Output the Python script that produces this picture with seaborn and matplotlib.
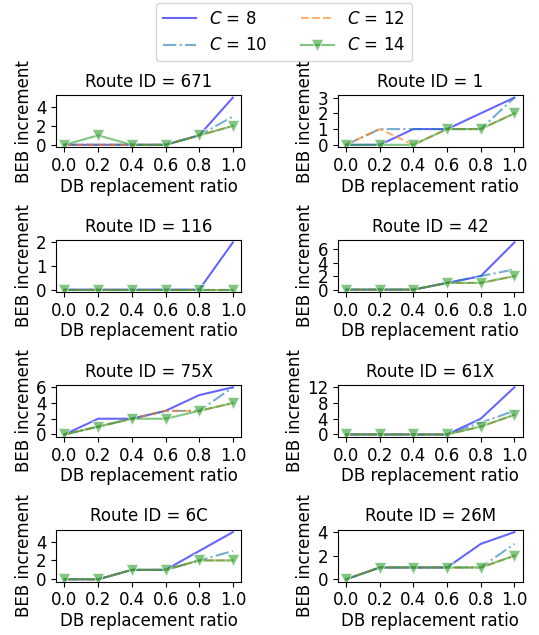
import pandas as pd
import seaborn as sns
import matplotlib.pyplot as plt

ratios = [0.0, 0.2, 0.4, 0.6, 0.8, 1.0]
routes = ["671", "1", "116", "42", "75X", "61X", "6C", "26M"]
capacities = [8, 10, 12, 14]

# BEB increment per route, one list per capacity C (8, 10, 12, 14)
r671 = [[0, 0, 0, 0, 1, 5], [0, 0, 0, 0, 1, 3], [0, 0, 0, 0, 1, 2], [0, 1, 0, 0, 1, 2]]
r1 = [[0, 0, 1, 1, 2, 3], [0, 1, 1, 1, 1, 3], [0, 1, 0, 1, 1, 2], [0, 0, 0, 1, 1, 2]]
r116 = [[0, 0, 0, 0, 0, 2], [0, 0, 0, 0, 0, 0], [0, 0, 0, 0, 0, 0], [0, 0, 0, 0, 0, 0]]
r42 = [[0, 0, 0, 1, 2, 7], [0, 0, 0, 1, 2, 3], [0, 0, 0, 1, 1, 2], [0, 0, 0, 1, 1, 2]]
r75x = [[0, 2, 2, 3, 5, 6], [0, 1, 2, 3, 3, 6], [0, 1, 2, 3, 3, 4], [0, 1, 2, 2, 3, 4]]
r61x = [[0, 0, 0, 0, 4, 12], [0, 0, 0, 0, 3, 6], [0, 0, 0, 0, 2, 5], [0, 0, 0, 0, 2, 5]]
r6c = [[0, 0, 1, 1, 3, 5], [0, 0, 1, 1, 2, 3], [0, 0, 1, 1, 2, 2], [0, 0, 1, 1, 2, 2]]
r26m = [[0, 1, 1, 1, 3, 4], [0, 1, 1, 1, 1, 3], [0, 1, 1, 1, 1, 2], [0, 1, 1, 1, 1, 2]]
route_data = [r671, r1, r116, r42, r75x, r61x, r6c, r26m]

yticks = {
    "671": [0, 2, 4], "1": [0, 1, 2, 3], "116": [0, 1, 2], "42": [0, 2, 4, 6],
    "75X": [0, 2, 4, 6], "61X": [0, 4, 8, 12], "6C": [0, 2, 4], "26M": [0, 2, 4],
}

styles = {
    8: dict(color="blue", linestyle="-"),
    10: dict(color="tab:blue", linestyle="-."),
    12: dict(color="tab:orange", linestyle="--"),
    14: dict(color="tab:green", linestyle="-", marker="v", markersize=8),
}

plt.rcParams["font.family"] = "DejaVu Sans"
plt.rcParams["font.size"] = 12

fig, axes = plt.subplots(4, 2, figsize=(5.39, 6.35), dpi=100)
axes = axes.flatten()

for ax, route, data in zip(axes, routes, route_data):
    for c, vals in zip(capacities, data):
        df = pd.DataFrame({"ratio": ratios, "beb": vals})
        sns.lineplot(data=df, x="ratio", y="beb", ax=ax, alpha=0.6,
                     label=f"$C$ = {c}", legend=False, **styles[c])
    ax.set_title(f"Route ID = {route}", fontsize=12)
    ax.set_xlabel("DB replacement ratio", fontsize=12, labelpad=2)
    ax.set_ylabel("BEB increment", fontsize=12, labelpad=2)
    ax.set_xticks(ratios)
    ax.set_yticks(yticks[route])
    ax.tick_params(labelsize=12)

handles, labels = axes[0].get_legend_handles_labels()
fig.legend(handles, labels, loc="upper center", ncol=2, fontsize=12,
           bbox_to_anchor=(0.527, 1.0), borderaxespad=0.2)

plt.subplots_adjust(left=0.104, right=0.970, top=0.850, bottom=0.084,
                    hspace=1.79, wspace=0.52)
plt.savefig("out.png", dpi=100)
